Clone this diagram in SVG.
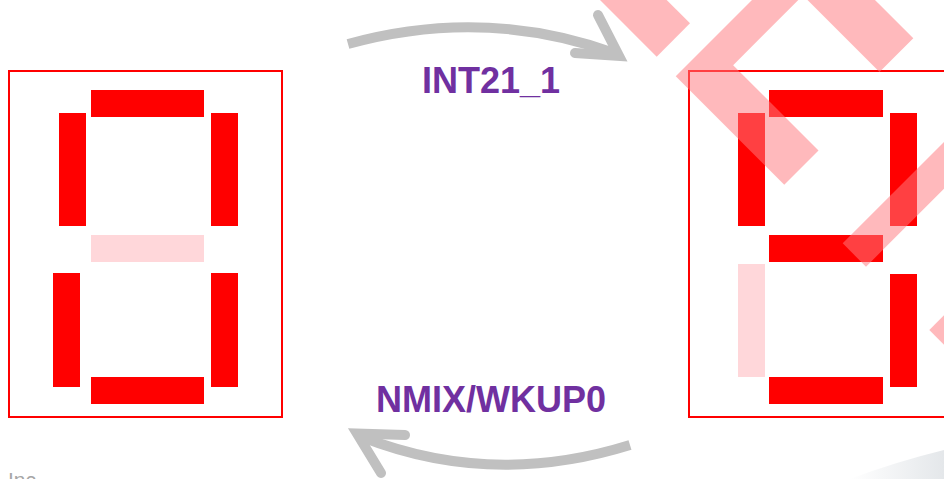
<svg xmlns="http://www.w3.org/2000/svg" width="944" height="479" viewBox="0 0 944 479">
  <style>
    .frame { fill: none; stroke: #ff0000; stroke-width: 2; }
    .on { fill: #ff0000; }
    .off { fill: #ffd7da; }
    .arc { fill: none; stroke: #c0c0c0; stroke-width: 10; stroke-linecap: butt; }
    .head { fill: none; stroke: #c0c0c0; stroke-width: 10; stroke-linecap: round; stroke-linejoin: miter; stroke-miterlimit: 10; }
    .label { font-family: "Liberation Sans", Arial, sans-serif; font-weight: bold; font-size: 36px; fill: #7030a0; text-anchor: middle; }
    .footer { font-family: "Liberation Sans", Arial, sans-serif; font-size: 21px; fill: #a6a6a6; }
  </style>
  <defs>
    <linearGradient id="swoosh" x1="0" y1="0" x2="1" y2="0">
      <stop offset="0" stop-color="#ffffff"/>
      <stop offset="1" stop-color="#e4e7ea"/>
    </linearGradient>
  </defs>
  <rect width="944" height="479" fill="#ffffff"/>
  <path d="M 850 479 Q 895 462 944 450 L 944 479 Z" fill="url(#swoosh)"/>
  <text class="footer" x="8" y="487">Inc</text>

  <g id="digit-left">
    <rect class="frame" x="9" y="71" width="273" height="346"/>
    <rect class="on" x="91" y="90" width="113" height="27"/>
    <rect class="on" x="59" y="113" width="27" height="113"/>
    <rect class="on" x="211" y="113" width="27" height="113"/>
    <rect class="off" x="91" y="235" width="113" height="27"/>
    <rect class="on" x="53" y="273" width="27" height="114"/>
    <rect class="on" x="211" y="273" width="27" height="114"/>
    <rect class="on" x="91" y="377" width="113" height="27"/>
  </g>

  <g id="digit-right">
    <rect class="frame" x="689" y="71" width="280" height="346"/>
    <rect class="on" x="769" y="90" width="114" height="27"/>
    <rect class="on" x="738" y="113" width="27" height="113"/>
    <rect class="on" x="890" y="113" width="27" height="113"/>
    <rect class="on" x="769" y="235" width="114" height="27"/>
    <rect class="off" x="738" y="264" width="27" height="113"/>
    <rect class="on" x="890" y="274" width="27" height="113"/>
    <rect class="on" x="769" y="377" width="114" height="27"/>
  </g>

  <g id="watermark" opacity="0.52" fill="#ff7b7f">
    <polygon points="580,-20 646.7,-20 690,23.3 656.7,56.7"/>
    <polygon points="813.5,-61.5 675.75,76.25 784.25,184.75 818.5,150.5 733.15,65.15 802.9,-4.6 879.5,72 913.3,38.3 855,-20"/>
    <polygon points="842.7,243.3 866,266.7 990,142.7 966.7,119.3"/>
    <polygon points="929.3,330 960,299.3 960,360.7"/>
  </g>

  <g id="connectors">
    <g id="edge-int21">
      <path class="arc" d="M 348 44 Q 485 6 617 54"/>
      <path class="head" d="M 598 15 L 619 56 L 575 53"/>
      <text class="label" x="491" y="93">INT21_1</text>
    </g>
    <g id="edge-nmix">
      <path class="arc" d="M 630 445 Q 492 488 362 437"/>
      <path class="head" d="M 405 435 L 357 433.5 L 381 473"/>
      <text class="label" x="491" y="412">NMIX/WKUP0</text>
    </g>
  </g>
</svg>
